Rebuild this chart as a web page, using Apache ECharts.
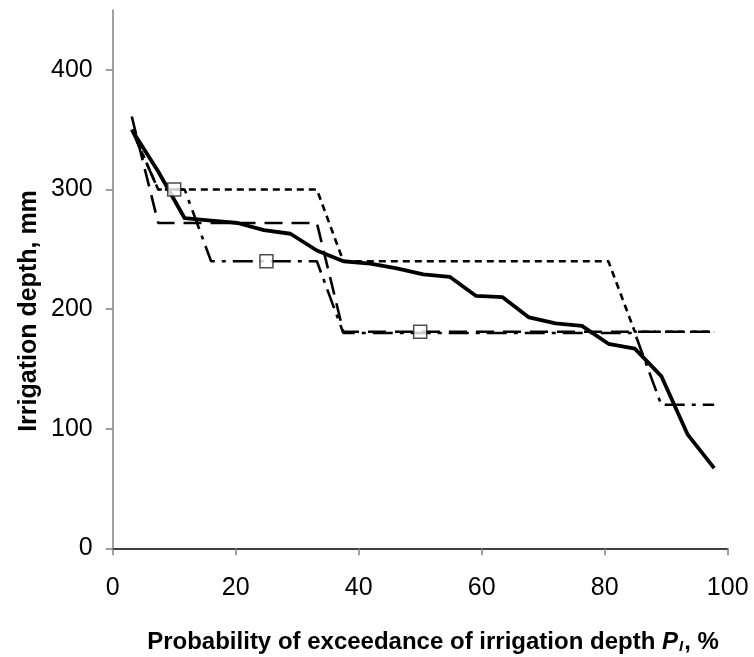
<!DOCTYPE html>
<html>
<head>
<meta charset="utf-8">
<script src="https://cdn.jsdelivr.net/npm/echarts@6/dist/echarts.min.js"></script>
<style>
  html, body { margin: 0; padding: 0; background: #fff; }
  #chart { width: 754px; height: 657px; }
</style>
</head>
<body>
<div id="chart"></div>
<script>
// Probability of exceedance (%) for each ranked season
const probability = [3.1, 7.4, 11.7, 16.0, 20.3, 24.6, 28.9, 33.2, 37.5, 41.9, 46.2, 50.5,
                     54.8, 59.1, 63.4, 67.7, 72.0, 76.3, 80.6, 84.9, 89.2, 93.5, 97.8];

// Required irrigation depth, mm
const requiredDepth = [350, 315, 276, 274, 272, 266, 263, 249, 240, 238, 234, 229,
                       227, 211, 210, 193, 188, 186, 171, 167, 144, 95, 67];

// Stepped irrigation depths for the alternative schedules, mm
const stepLongDash = [361, 272, 272, 272, 272, 272, 272, 272, 181, 181, 181, 181,
                      181, 181, 181, 181, 181, 181, 181, 181, 181, 181, 181];
const stepDotted   = [350, 300, 300, 300, 300, 300, 300, 300, 240, 240, 240, 240,
                      240, 240, 240, 240, 240, 240, 240, 181, 181, 181, 181];
const stepDashDot  = [350, 300, 300, 240, 240, 240, 240, 240, 180, 180, 180, 180,
                      180, 180, 180, 180, 180, 180, 180, 180, 120, 120, 120];

// Design points (probability %, depth mm)
const designProbability = [10, 25, 50];
const designDepth = [300, 240, 181];

const xTicks = [0, 20, 40, 60, 80, 100];
const yTicks = [0, 100, 200, 300, 400];

const pairs = (xs, ys) => xs.map((x, i) => [x, ys[i]]);

const FONT = '"Liberation Sans", Arial, sans-serif';

function stepSeries(values, dash, z) {
  return {
    type: 'line',
    data: pairs(probability, values),
    showSymbol: false,
    silent: true,
    z: z,
    lineStyle: { color: '#000', width: 2.6, type: dash, cap: 'butt' }
  };
}

const chart = echarts.init(document.getElementById('chart'), null, { renderer: 'canvas' });

chart.setOption({
  animation: false,
  backgroundColor: '#fff',
  grid: { left: 112.7, right: 26.3, top: 10.1, bottom: 108.7, containLabel: false },
  xAxis: {
    type: 'value',
    min: 0,
    max: 100,
    interval: 20,
    axisLine: { show: true, onZero: false, lineStyle: { color: '#000', width: 1.5 } },
    axisTick: { show: true, inside: false, length: 7, lineStyle: { color: '#808080', width: 1.5 },
                customValues: xTicks },
    axisLabel: { color: '#000', fontFamily: FONT, fontSize: 25, margin: 27, customValues: xTicks },
    splitLine: { show: false }
  },
  yAxis: {
    type: 'value',
    min: 0,
    max: 450,
    interval: 100,
    axisLine: { show: true, lineStyle: { color: '#808080', width: 1.5 } },
    axisTick: { show: true, inside: false, length: 7, lineStyle: { color: '#808080', width: 1.5 },
                customValues: yTicks },
    axisLabel: { color: '#000', fontFamily: FONT, fontSize: 25, margin: 20, customValues: yTicks },
    splitLine: { show: false }
  },
  graphic: [
    {
      type: 'text',
      x: 433,
      y: 642,
      style: {
        text: '{b|Probability of exceedance of irrigation depth }{p|P}{s|I}{b|, %}',
        align: 'center',
        verticalAlign: 'middle',
        rich: {
          b: { fontFamily: FONT, fontSize: 24, fontWeight: 'bold', fill: '#000' },
          p: { fontFamily: FONT, fontSize: 24, fontWeight: 'bold', fontStyle: 'italic', fill: '#000' },
          s: { fontFamily: FONT, fontSize: 15, fontWeight: 'bold', fontStyle: 'italic', fill: '#000',
               padding: [10, 1, 0, 1] }
        }
      }
    },
    {
      type: 'text',
      x: 29,
      y: 311,
      rotation: Math.PI / 2,
      style: {
        text: 'Irrigation depth, mm',
        align: 'center',
        verticalAlign: 'middle',
        fontFamily: FONT,
        fontSize: 25,
        fontWeight: 'bold',
        fill: '#000'
      }
    }
  ],
  series: [
    stepSeries(stepDashDot, [20, 7, 4, 7], 2),
    stepSeries(stepLongDash, [18, 9], 3),
    stepSeries(stepDotted, [7, 5], 4),
    {
      type: 'line',
      data: pairs(probability, requiredDepth),
      showSymbol: false,
      silent: true,
      z: 5,
      lineStyle: { color: '#000', width: 3.8, join: 'round' }
    },
    {
      type: 'scatter',
      data: pairs(designProbability, designDepth),
      symbol: 'rect',
      symbolSize: 13,
      silent: true,
      z: 6,
      itemStyle: { color: '#fff', borderColor: '#222', borderWidth: 1.5 }
    }
  ]
});
</script>
</body>
</html>
